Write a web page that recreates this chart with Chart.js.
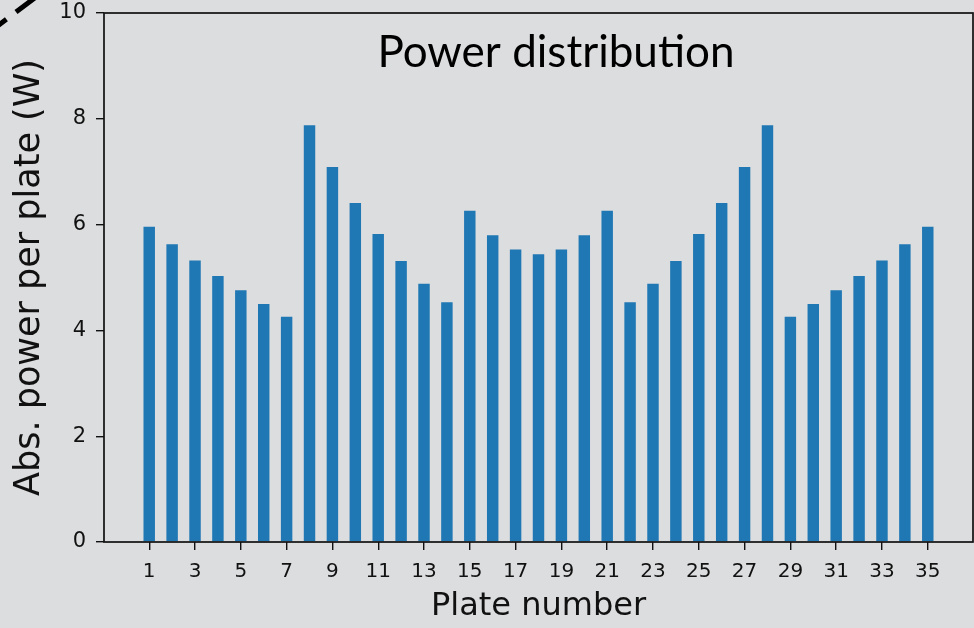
<!DOCTYPE html>
<html>
<head>
<meta charset="utf-8">
<title>Power distribution</title>
<script src="https://cdn.jsdelivr.net/npm/chart.js@4.4.1/dist/chart.umd.min.js"></script>
<style>
  html, body { margin: 0; padding: 0; background: #dcdddf; }
  canvas { display: block; }
</style>
</head>
<body>
<canvas id="power-chart" width="974" height="628"></canvas>
<script>
// plate index and absorbed power per plate (W)
const plates = [1, 2, 3, 4, 5, 6, 7, 8, 9, 10, 11, 12, 13, 14, 15, 16, 17, 18,
  19, 20, 21, 22, 23, 24, 25, 26, 27, 28, 29, 30, 31, 32, 33, 34, 35];
const powerW = [5.96, 5.63, 5.32, 5.03, 4.76, 4.50, 4.26, 7.88, 7.09, 6.41, 5.82, 5.31,
  4.88, 4.53, 6.26, 5.80, 5.53, 5.44, 5.53, 5.80, 6.26, 4.53, 4.88, 5.31, 5.82, 6.41,
  7.09, 7.88, 4.26, 4.50, 4.76, 5.03, 5.32, 5.63, 5.96];
const xTicks = [1, 3, 5, 7, 9, 11, 13, 15, 17, 19, 21, 23, 25, 27, 29, 31, 33, 35];
const yTicks = [0, 2, 4, 6, 8, 10];

const ink = '#111111';
const mono = 'DejaVu Sans';

// frame, inner title and the dashed stroke in the corner
const decor = {
  id: 'decor',
  afterDraw(chart) {
    const { ctx, chartArea: a } = chart;
    ctx.save();
    ctx.strokeStyle = ink;
    ctx.lineWidth = 1.7;
    ctx.strokeRect(a.left, a.top, a.right - a.left, a.bottom - a.top);

    ctx.fillStyle = '#000';
    ctx.font = '44px Lato';
    ctx.textAlign = 'center';
    ctx.textBaseline = 'alphabetic';
    ctx.fillText('Power distribution', 556, 67);

    ctx.setLineDash([30, 12]);
    ctx.lineWidth = 5;
    ctx.strokeStyle = '#000';
    ctx.beginPath();
    ctx.moveTo(40, -6);
    ctx.lineTo(-24, 42);
    ctx.stroke();
    ctx.restore();
  }
};

new Chart(document.getElementById('power-chart'), {
  type: 'bar',
  data: {
    datasets: [{
      data: plates.map((p, i) => ({ x: p, y: powerW[i] })),
      backgroundColor: '#1f77b4',
      borderWidth: 0,
      categoryPercentage: 0.5,
      barPercentage: 1.0
    }]
  },
  options: {
    responsive: false,
    animation: false,
    layout: { padding: { left: 0, right: 1, top: 13, bottom: 0 } },
    plugins: { legend: { display: false }, tooltip: { enabled: false } },
    scales: {
      x: {
        type: 'linear',
        min: -0.975,
        max: 36.975,
        offset: false,
        afterBuildTicks: s => { s.ticks = xTicks.map(v => ({ value: v })); },
        afterFit: s => { s.height = 86; s.paddingLeft = 0; s.paddingRight = 0; },
        border: { display: false },
        grid: { drawOnChartArea: false, offset: false, tickLength: 8, color: ink, lineWidth: 1.4 },
        ticks: {
          autoSkip: false, maxRotation: 0, padding: 10, color: ink,
          font: { family: mono, size: 20 }
        },
        title: {
          display: true, text: 'Plate number', color: ink,
          font: { family: mono, size: 32, lineHeight: 1.2 },
          padding: { top: 0, bottom: 2 }
        }
      },
      y: {
        min: 0,
        max: 10,
        afterBuildTicks: s => { s.ticks = yTicks.map(v => ({ value: v })); },
        afterFit: s => { s.width = 104; s.paddingTop = 0; s.paddingBottom = 0; },
        border: { display: false },
        grid: { drawOnChartArea: false, tickLength: 8, color: ink, lineWidth: 1.4 },
        ticks: {
          padding: 10, color: ink,
          font: { family: mono, size: 21 }
        },
        title: {
          display: true, text: 'Abs. power per plate (W)', color: ink,
          font: { family: mono, size: 35, lineHeight: 1.2 },
          padding: { top: 9, bottom: 0 }
        }
      }
    }
  },
  plugins: [decor]
});
</script>
</body>
</html>
